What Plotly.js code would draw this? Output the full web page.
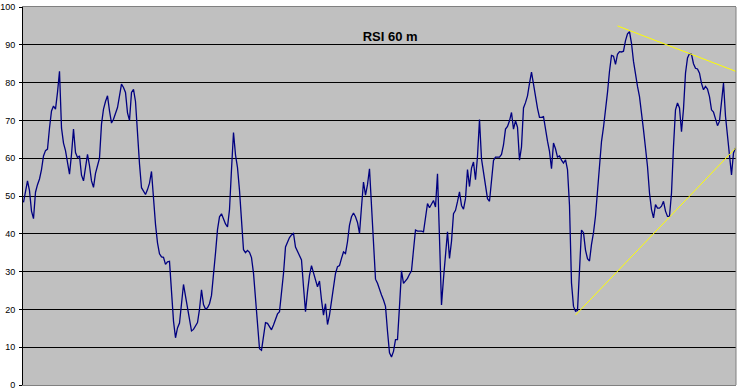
<!DOCTYPE html>
<html>
<head>
<meta charset="utf-8">
<script src="https://cdn.plot.ly/plotly-3.0.1.min.js"></script>
<style>html,body{margin:0;padding:0;background:#fff;}#chart{width:739px;height:391px;}</style>
</head>
<body>
<div id="chart"></div>
<script>
// RSI (60-minute) readings, one per bar, left to right
const rsi = [
48.3,51,54,51.4,46,44,51,53,54.5,57,
60.6,62,62.4,68,72.5,73.8,73,77.4,83,68,
64,62,58.5,55.8,61,67.7,61.5,60.2,60.6,55.5,
54,58,61,58,54,52.3,56,58,60,69,
73,75,76.5,72.5,69.3,70.3,71.6,73.4,76.5,79.6,
78.7,77.4,72,70,77.4,78.2,75,65,58.5,52.2,
51.4,
50.4,51.7,53.4,56.5,48.6,42.5,37.6,34.7,33.9,33.8,31.9,32.6,32.7,23.5,16.9,12.5,15.1,16.4,22.6,26.6,
23.5,20.2,16.4,14.3,14.7,15.7,16.5,20,25.2,21.3,20.1,20.4,21.5,23.7,28.8,34.9,41.1,44.5,45.3,43.7,
42.6,41.8,46.4,57,66.8,60.9,57.5,51.5,44.3,35.8,35,35.6,35.1,33.7,29.6,23.5,16,9.6,9.2,13.5,
16.5,16.3,15.5,14.6,15.9,17.2,18.8,19.4,24,29.5,36.5,37.9,39,39.7,40.1,36.5,35.3,34.2,33.1,26,
19.4,24.7,29,31.6,30,27.8,26,27.5,22.5,18.5,21.5,16,18.5,22,26.2,29.5,31.3,31.6,33.5,35.2,
34.8,37.9,42.3,44.5,45.5,44.5,43,40.1,47.1,53.7,50.2,53,57.2,47.5,41,28,26.9,25.1,23.8,22.5,
20.8,14.2,8.5,7.4,8.9,12,12,20.8,30.2,26.9,27.6,28.2,29.3,30.2,35.7,41,40.7,40.7,40.7,40.5,
44.5,48,46.9,48,48.8,47.1,55.9,38.8,21.2,28.2,34.4,40.5,33.5,38,45.3,46.2,48.5,51.1,47.5,46.5,
49.3,57,52.5,57.4,59,54.3,60.5,70.2,59.8,55.9,52.8,49.3,48.6,54.1,59.4,60.3,60.3,60.3,61,63.5,
67.7,68.4,69.9,72.1,67.7,69.9,68.2,59.5,63,73.3,74.7,76.5,79.8,82.8,79.6,76,73.2,70.8,70.8,71,
67.3,64.5,61.8,57.2,64,62.5,60.3,60.6,59.5,58.7,59.6,57,47.5,27,20.8,19.5,19.7,29,41,40.3,
35.7,33.4,32.8,37.2,40.3,44.7,52.2,59.5,64.4,68.2,72.1,77.4,83,87.2,87,84.8,87.5,88.2,88.1,88.3,
91.1,92.9,93.5,90.4,85.6,81.6,79,76.3,72.4,67.5,62.7,57.8,50.8,46.4,44.2,47.7,46.8,46.8,47.3,48.6,
46,44.6,44.6,50.8,63.1,72.8,74.6,73.3,67,73,82.5,86.5,87.7,87.5,85,83.8,83.6,82.5,79.8,78.1,
79,78.3,76.3,72.8,72.2,70.2,68.6,69.8,75,79.9,71.1,66.2,59.6,55.6,61.4,62.7
];
const bars = rsi.map((_, i) => i);

// hand-drawn trend lines (bar index, RSI value)
const trendHighX = [297, 357];
const trendHighY = [95, 82.8];
const trendLowX = [276, 357];
const trendLowY = [18.5, 63.2];

const yTicks = [0,10,20,30,40,50,60,70,80,90,100];
const titleText = 'RSI 60 m';

const n = rsi.length;
const traces = [
  {x: bars, y: rsi, type: 'scatter', mode: 'lines',
   line: {color: '#000080', width: 1.3}, hoverinfo: 'skip'},
  {x: trendHighX, y: trendHighY, type: 'scatter', mode: 'lines',
   line: {color: '#ffff00', width: 1}, hoverinfo: 'skip'},
  {x: trendLowX, y: trendLowY, type: 'scatter', mode: 'lines',
   line: {color: '#ffff00', width: 1}, hoverinfo: 'skip'}
];

const font = {family: 'Liberation Sans, Arial, sans-serif', size: 9, color: '#000'};
const layout = {
  width: 739, height: 391,
  margin: {l: 23, r: 3, t: 7, b: 6, pad: 0},
  paper_bgcolor: '#ffffff',
  plot_bgcolor: '#c0c0c0',
  showlegend: false,
  font: font,
  title: {text: titleText, font: {family: 'Liberation Sans, Arial, sans-serif', size: 13, color: '#000', weight: 'bold'},
          x: 0.528, xanchor: 'center', y: 0.907, yanchor: 'middle', xref: 'container', yref: 'container'},
  xaxis: {range: [-0.25, n - 0.75], showgrid: false, zeroline: false, showticklabels: false,
          ticks: '', showline: true, linecolor: '#808080', linewidth: 1, mirror: true, fixedrange: true},
  yaxis: {range: [0, 100], tickvals: yTicks, ticktext: yTicks.map(String), showgrid: true,
          gridcolor: '#000000', gridwidth: 1, zeroline: false, showline: true, linecolor: '#000000',
          linewidth: 1, ticks: 'outside', ticklen: 3, tickcolor: '#000000', tickwidth: 1,
          tickfont: font, ticklabelstandoff: 2, fixedrange: true},
  shapes: [
    {type: 'line', xref: 'paper', yref: 'paper', x0: 1, x1: 1, y0: 0, y1: 1,
     line: {color: '#808080', width: 1}}
  ]
};

Plotly.newPlot('chart', traces, layout, {displayModeBar: false, staticPlot: true});
</script>
</body>
</html>
